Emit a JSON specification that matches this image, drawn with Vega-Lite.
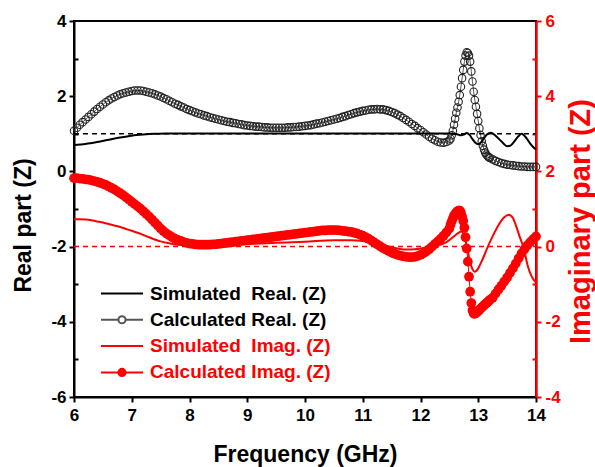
{
"$schema": "https://vega.github.io/schema/vega-lite/v6.json",
"width": 462, "height": 376,
"autosize": {"type": "none"},
"padding": {"left": 74, "top": 21, "right": 59, "bottom": 70},
"background": "white",
"config": {
 "view": {"stroke": "black", "strokeWidth": 2},
 "axis": {"grid": false, "labelFont": "Liberation Sans", "labelFontWeight": "bold", "labelFontSize": 17, "titleFont": "Liberation Sans", "titleFontWeight": "bold", "domainWidth": 2, "tickWidth": 2, "labelColor": "black", "titleColor": "black", "domainColor": "black", "tickColor": "black", "labelFlush": false, "labelOverlap": false}
},
"datasets": {
 "sr": [{"f":6,"v":0.7},{"f":6.2,"v":0.73},{"f":6.4,"v":0.78},{"f":6.6,"v":0.84},{"f":6.8,"v":0.9},{"f":7,"v":0.95},{"f":7.2,"v":0.98},{"f":7.4,"v":1.0},{"f":7.6,"v":1.01},{"f":8,"v":1.01},{"f":9,"v":1.01},{"f":10,"v":1.01},{"f":11,"v":1.01},{"f":12,"v":1.01},{"f":12.5,"v":1.01},{"f":12.6,"v":1.0},{"f":12.65,"v":0.98},{"f":12.7,"v":0.96},{"f":12.75,"v":0.98},{"f":12.8,"v":1.02},{"f":12.85,"v":0.97},{"f":12.9,"v":0.86},{"f":12.95,"v":0.76},{"f":13,"v":0.72},{"f":13.05,"v":0.78},{"f":13.1,"v":0.88},{"f":13.15,"v":0.98},{"f":13.22,"v":1.03},{"f":13.3,"v":0.95},{"f":13.4,"v":0.8},{"f":13.5,"v":0.67},{"f":13.55,"v":0.68},{"f":13.6,"v":0.75},{"f":13.65,"v":0.85},{"f":13.7,"v":0.94},{"f":13.75,"v":1.0},{"f":13.8,"v":0.95},{"f":13.85,"v":0.85},{"f":13.9,"v":0.74},{"f":13.95,"v":0.65},{"f":14,"v":0.58}],
 "cr": [{"f":6,"v":1.08},{"f":6.05,"v":1.16},{"f":6.1,"v":1.24},{"f":6.15,"v":1.31},{"f":6.2,"v":1.38},{"f":6.25,"v":1.45},{"f":6.3,"v":1.52},{"f":6.35,"v":1.59},{"f":6.4,"v":1.66},{"f":6.45,"v":1.72},{"f":6.5,"v":1.78},{"f":6.55,"v":1.84},{"f":6.6,"v":1.89},{"f":6.65,"v":1.94},{"f":6.7,"v":1.98},{"f":6.75,"v":2.02},{"f":6.8,"v":2.05},{"f":6.85,"v":2.08},{"f":6.9,"v":2.1},{"f":6.95,"v":2.12},{"f":7,"v":2.14},{"f":7.05,"v":2.15},{"f":7.1,"v":2.15},{"f":7.15,"v":2.15},{"f":7.2,"v":2.14},{"f":7.25,"v":2.12},{"f":7.3,"v":2.1},{"f":7.35,"v":2.08},{"f":7.4,"v":2.05},{"f":7.45,"v":2.02},{"f":7.5,"v":1.99},{"f":7.55,"v":1.95},{"f":7.6,"v":1.92},{"f":7.65,"v":1.88},{"f":7.7,"v":1.84},{"f":7.75,"v":1.8},{"f":7.8,"v":1.77},{"f":7.85,"v":1.73},{"f":7.9,"v":1.7},{"f":7.95,"v":1.66},{"f":8,"v":1.63},{"f":8.05,"v":1.6},{"f":8.1,"v":1.57},{"f":8.15,"v":1.54},{"f":8.2,"v":1.52},{"f":8.25,"v":1.49},{"f":8.3,"v":1.47},{"f":8.35,"v":1.44},{"f":8.4,"v":1.42},{"f":8.45,"v":1.4},{"f":8.5,"v":1.38},{"f":8.55,"v":1.36},{"f":8.6,"v":1.34},{"f":8.65,"v":1.32},{"f":8.7,"v":1.31},{"f":8.75,"v":1.29},{"f":8.8,"v":1.28},{"f":8.85,"v":1.26},{"f":8.9,"v":1.25},{"f":8.95,"v":1.23},{"f":9,"v":1.22},{"f":9.05,"v":1.21},{"f":9.1,"v":1.2},{"f":9.15,"v":1.19},{"f":9.2,"v":1.19},{"f":9.25,"v":1.18},{"f":9.3,"v":1.17},{"f":9.35,"v":1.17},{"f":9.4,"v":1.16},{"f":9.45,"v":1.16},{"f":9.5,"v":1.16},{"f":9.55,"v":1.16},{"f":9.6,"v":1.16},{"f":9.65,"v":1.16},{"f":9.7,"v":1.17},{"f":9.75,"v":1.17},{"f":9.8,"v":1.18},{"f":9.85,"v":1.18},{"f":9.9,"v":1.19},{"f":9.95,"v":1.2},{"f":10,"v":1.21},{"f":10.05,"v":1.22},{"f":10.1,"v":1.23},{"f":10.15,"v":1.25},{"f":10.2,"v":1.27},{"f":10.25,"v":1.28},{"f":10.3,"v":1.3},{"f":10.35,"v":1.32},{"f":10.4,"v":1.34},{"f":10.45,"v":1.36},{"f":10.5,"v":1.38},{"f":10.55,"v":1.4},{"f":10.6,"v":1.42},{"f":10.65,"v":1.45},{"f":10.7,"v":1.47},{"f":10.75,"v":1.5},{"f":10.8,"v":1.52},{"f":10.85,"v":1.55},{"f":10.9,"v":1.57},{"f":10.95,"v":1.59},{"f":11,"v":1.61},{"f":11.05,"v":1.62},{"f":11.1,"v":1.64},{"f":11.15,"v":1.65},{"f":11.2,"v":1.65},{"f":11.25,"v":1.66},{"f":11.3,"v":1.65},{"f":11.35,"v":1.65},{"f":11.4,"v":1.63},{"f":11.45,"v":1.61},{"f":11.5,"v":1.58},{"f":11.55,"v":1.55},{"f":11.6,"v":1.51},{"f":11.65,"v":1.47},{"f":11.7,"v":1.42},{"f":11.75,"v":1.37},{"f":11.8,"v":1.32},{"f":11.85,"v":1.26},{"f":11.9,"v":1.21},{"f":11.95,"v":1.15},{"f":12,"v":1.1},{"f":12.05,"v":1.04},{"f":12.1,"v":0.98},{"f":12.15,"v":0.92},{"f":12.2,"v":0.87},{"f":12.25,"v":0.83},{"f":12.3,"v":0.79},{"f":12.35,"v":0.77},{"f":12.4,"v":0.76},{"f":12.45,"v":0.78},{"f":12.5,"v":0.82},{"f":12.52,"v":0.87},{"f":12.54,"v":0.96},{"f":12.56,"v":1.08},{"f":12.58,"v":1.24},{"f":12.6,"v":1.4},{"f":12.62,"v":1.56},{"f":12.64,"v":1.7},{"f":12.66,"v":1.85},{"f":12.68,"v":2.03},{"f":12.7,"v":2.25},{"f":12.72,"v":2.48},{"f":12.74,"v":2.7},{"f":12.76,"v":2.92},{"f":12.78,"v":3.08},{"f":12.8,"v":3.17},{"f":12.82,"v":3.15},{"f":12.84,"v":3.08},{"f":12.86,"v":2.92},{"f":12.88,"v":2.66},{"f":12.9,"v":2.39},{"f":12.92,"v":2.12},{"f":12.94,"v":1.9},{"f":12.96,"v":1.72},{"f":12.98,"v":1.53},{"f":13,"v":1.34},{"f":13.02,"v":1.15},{"f":13.04,"v":0.97},{"f":13.06,"v":0.8},{"f":13.08,"v":0.68},{"f":13.1,"v":0.58},{"f":13.12,"v":0.5},{"f":13.14,"v":0.45},{"f":13.16,"v":0.41},{"f":13.18,"v":0.38},{"f":13.2,"v":0.36},{"f":13.25,"v":0.32},{"f":13.3,"v":0.28},{"f":13.35,"v":0.25},{"f":13.4,"v":0.22},{"f":13.45,"v":0.2},{"f":13.5,"v":0.18},{"f":13.55,"v":0.17},{"f":13.6,"v":0.16},{"f":13.65,"v":0.15},{"f":13.7,"v":0.14},{"f":13.75,"v":0.13},{"f":13.8,"v":0.13},{"f":13.85,"v":0.12},{"f":13.9,"v":0.12},{"f":13.95,"v":0.12},{"f":14,"v":0.12}],
 "si": [{"f":6,"v":0.73},{"f":6.1,"v":0.73},{"f":6.2,"v":0.72},{"f":6.3,"v":0.7},{"f":6.4,"v":0.67},{"f":6.5,"v":0.64},{"f":6.6,"v":0.6},{"f":6.7,"v":0.56},{"f":6.8,"v":0.52},{"f":6.9,"v":0.47},{"f":7,"v":0.42},{"f":7.1,"v":0.37},{"f":7.2,"v":0.31},{"f":7.3,"v":0.25},{"f":7.4,"v":0.19},{"f":7.5,"v":0.14},{"f":7.6,"v":0.1},{"f":7.7,"v":0.07},{"f":7.8,"v":0.05},{"f":8,"v":0.04},{"f":8.5,"v":0.05},{"f":9,"v":0.07},{"f":9.5,"v":0.1},{"f":10,"v":0.13},{"f":10.5,"v":0.17},{"f":10.8,"v":0.17},{"f":11,"v":0.15},{"f":11.2,"v":0.09},{"f":11.4,"v":0.02},{"f":11.6,"v":-0.05},{"f":11.76,"v":-0.08},{"f":11.9,"v":-0.07},{"f":12,"v":-0.05},{"f":12.2,"v":0.0},{"f":12.34,"v":0.05},{"f":12.45,"v":0.12},{"f":12.57,"v":0.26},{"f":12.65,"v":0.36},{"f":12.71,"v":0.4},{"f":12.75,"v":0.3},{"f":12.8,"v":0.02},{"f":12.85,"v":-0.35},{"f":12.9,"v":-0.6},{"f":12.94,"v":-0.67},{"f":13,"v":-0.58},{"f":13.05,"v":-0.42},{"f":13.1,"v":-0.25},{"f":13.15,"v":-0.06},{"f":13.25,"v":0.28},{"f":13.35,"v":0.57},{"f":13.45,"v":0.78},{"f":13.53,"v":0.85},{"f":13.6,"v":0.76},{"f":13.66,"v":0.53},{"f":13.72,"v":0.25},{"f":13.78,"v":0.0},{"f":13.86,"v":-0.53},{"f":13.92,"v":-0.78},{"f":14,"v":-0.96}],
 "ci": [{"f":6,"v":1.82},{"f":6.05,"v":1.82},{"f":6.1,"v":1.81},{"f":6.15,"v":1.8},{"f":6.2,"v":1.79},{"f":6.25,"v":1.78},{"f":6.3,"v":1.76},{"f":6.35,"v":1.74},{"f":6.4,"v":1.72},{"f":6.45,"v":1.7},{"f":6.5,"v":1.67},{"f":6.55,"v":1.64},{"f":6.6,"v":1.6},{"f":6.65,"v":1.56},{"f":6.7,"v":1.52},{"f":6.75,"v":1.47},{"f":6.8,"v":1.42},{"f":6.85,"v":1.37},{"f":6.9,"v":1.31},{"f":6.95,"v":1.25},{"f":7,"v":1.19},{"f":7.05,"v":1.13},{"f":7.1,"v":1.07},{"f":7.15,"v":1.01},{"f":7.2,"v":0.94},{"f":7.25,"v":0.87},{"f":7.3,"v":0.8},{"f":7.35,"v":0.72},{"f":7.4,"v":0.64},{"f":7.45,"v":0.56},{"f":7.5,"v":0.48},{"f":7.55,"v":0.41},{"f":7.6,"v":0.35},{"f":7.65,"v":0.3},{"f":7.7,"v":0.25},{"f":7.75,"v":0.21},{"f":7.8,"v":0.18},{"f":7.85,"v":0.15},{"f":7.9,"v":0.12},{"f":7.95,"v":0.1},{"f":8,"v":0.08},{"f":8.05,"v":0.07},{"f":8.1,"v":0.06},{"f":8.15,"v":0.05},{"f":8.2,"v":0.05},{"f":8.25,"v":0.05},{"f":8.3,"v":0.05},{"f":8.35,"v":0.05},{"f":8.4,"v":0.06},{"f":8.45,"v":0.06},{"f":8.5,"v":0.07},{"f":8.55,"v":0.08},{"f":8.6,"v":0.09},{"f":8.65,"v":0.1},{"f":8.7,"v":0.11},{"f":8.75,"v":0.12},{"f":8.8,"v":0.13},{"f":8.85,"v":0.14},{"f":8.9,"v":0.15},{"f":8.95,"v":0.16},{"f":9,"v":0.17},{"f":9.05,"v":0.18},{"f":9.1,"v":0.19},{"f":9.15,"v":0.2},{"f":9.2,"v":0.21},{"f":9.25,"v":0.22},{"f":9.3,"v":0.23},{"f":9.35,"v":0.24},{"f":9.4,"v":0.25},{"f":9.45,"v":0.26},{"f":9.5,"v":0.27},{"f":9.55,"v":0.28},{"f":9.6,"v":0.29},{"f":9.65,"v":0.3},{"f":9.7,"v":0.31},{"f":9.75,"v":0.32},{"f":9.8,"v":0.33},{"f":9.85,"v":0.34},{"f":9.9,"v":0.35},{"f":9.95,"v":0.36},{"f":10,"v":0.37},{"f":10.05,"v":0.38},{"f":10.1,"v":0.39},{"f":10.15,"v":0.4},{"f":10.2,"v":0.41},{"f":10.25,"v":0.42},{"f":10.3,"v":0.43},{"f":10.35,"v":0.43},{"f":10.4,"v":0.44},{"f":10.45,"v":0.44},{"f":10.5,"v":0.44},{"f":10.55,"v":0.44},{"f":10.6,"v":0.43},{"f":10.65,"v":0.42},{"f":10.7,"v":0.41},{"f":10.75,"v":0.4},{"f":10.8,"v":0.39},{"f":10.85,"v":0.37},{"f":10.9,"v":0.35},{"f":10.95,"v":0.32},{"f":11,"v":0.29},{"f":11.05,"v":0.25},{"f":11.1,"v":0.21},{"f":11.15,"v":0.16},{"f":11.2,"v":0.11},{"f":11.25,"v":0.06},{"f":11.3,"v":0.01},{"f":11.35,"v":-0.04},{"f":11.4,"v":-0.08},{"f":11.45,"v":-0.12},{"f":11.5,"v":-0.16},{"f":11.55,"v":-0.19},{"f":11.6,"v":-0.22},{"f":11.65,"v":-0.24},{"f":11.7,"v":-0.26},{"f":11.75,"v":-0.27},{"f":11.8,"v":-0.28},{"f":11.85,"v":-0.28},{"f":11.9,"v":-0.27},{"f":11.95,"v":-0.25},{"f":12,"v":-0.22},{"f":12.05,"v":-0.18},{"f":12.1,"v":-0.13},{"f":12.15,"v":-0.07},{"f":12.2,"v":0.0},{"f":12.25,"v":0.07},{"f":12.3,"v":0.14},{"f":12.35,"v":0.21},{"f":12.4,"v":0.29},{"f":12.45,"v":0.38},{"f":12.5,"v":0.48},{"f":12.52,"v":0.58},{"f":12.54,"v":0.67},{"f":12.56,"v":0.75},{"f":12.58,"v":0.82},{"f":12.6,"v":0.87},{"f":12.62,"v":0.91},{"f":12.64,"v":0.94},{"f":12.66,"v":0.96},{"f":12.68,"v":0.96},{"f":12.7,"v":0.9},{"f":12.72,"v":0.8},{"f":12.74,"v":0.68},{"f":12.76,"v":0.5},{"f":12.78,"v":0.25},{"f":12.8,"v":-0.05},{"f":12.82,"v":-0.4},{"f":12.84,"v":-0.8},{"f":12.86,"v":-1.2},{"f":12.88,"v":-1.5},{"f":12.9,"v":-1.7},{"f":12.92,"v":-1.78},{"f":12.94,"v":-1.79},{"f":12.96,"v":-1.77},{"f":12.98,"v":-1.74},{"f":13,"v":-1.71},{"f":13.02,"v":-1.68},{"f":13.04,"v":-1.65},{"f":13.06,"v":-1.62},{"f":13.08,"v":-1.59},{"f":13.1,"v":-1.56},{"f":13.12,"v":-1.53},{"f":13.14,"v":-1.51},{"f":13.16,"v":-1.48},{"f":13.18,"v":-1.45},{"f":13.2,"v":-1.42},{"f":13.25,"v":-1.36},{"f":13.3,"v":-1.25},{"f":13.35,"v":-1.14},{"f":13.4,"v":-1.04},{"f":13.45,"v":-0.93},{"f":13.5,"v":-0.82},{"f":13.55,"v":-0.7},{"f":13.6,"v":-0.58},{"f":13.65,"v":-0.45},{"f":13.7,"v":-0.31},{"f":13.75,"v":-0.18},{"f":13.8,"v":-0.07},{"f":13.85,"v":0.03},{"f":13.9,"v":0.12},{"f":13.95,"v":0.2},{"f":14,"v":0.27}],
 "ref1": [{"f":6,"v":1},{"f":14,"v":1}],
 "ref0": [{"f":6,"v":0},{"f":14,"v":0}]
},
"layer": [
 {
  "encoding": {
   "x": {"field": "f", "type": "quantitative", "scale": {"domain": [6, 14], "nice": false, "zero": false},
    "axis": {"values": [6,6.5,7,7.5,8,8.5,9,9.5,10,10.5,11,11.5,12,12.5,13,13.5,14], "labelExpr": "datum.value % 1 === 0 ? '' + datum.value : ''", "tickSize": 5, "labelPadding": 5, "title": "Frequency (GHz)", "titleFontSize": 23, "titleY": 64, "titleBaseline": "alphabetic"}},
   "y": {"field": "v", "type": "quantitative", "scale": {"domain": [-6, 4], "nice": false, "zero": false},
    "axis": {"values": [-6,-5,-4,-3,-2,-1,0,1,2,3,4], "labelExpr": "datum.value % 2 === 0 ? '' + datum.value : ''", "tickSize": {"condition": {"test": "datum.value % 2 === 0", "value": 5}, "value": -4}, "labelPadding": 3, "title": "Real part (Z)", "titleFontSize": 23, "titleAngle": 270, "titleX": -44, "titleY": 204, "titleBaseline": "alphabetic", "titleAlign": "center"}}
  },
  "layer": [
   {"data": {"name": "cr"}, "mark": {"type": "line", "strokeWidth": 1},
    "encoding": {"color": {"datum": "Calculated Real. (Z)", "type": "nominal",
      "scale": {"domain": ["Simulated\u00a0 Real. (Z)", "Calculated Real. (Z)", "Simulated\u00a0 Imag. (Z)", "Calculated Imag. (Z)"], "range": ["black", "#555555", "red", "red"]},
      "legend": {"orient": "none", "legendX": 26, "legendY": 263, "title": null, "padding": 0, "symbolSize": 1764, "clipHeight": 19, "rowPadding": 6.3, "labelOffset": 6, "labelFont": "Liberation Sans", "labelFontWeight": "bold", "labelFontSize": 19, "labelLimit": 400, "symbolOpacity": 1, "symbolStrokeWidth": 2,
       "labelColor": {"expr": "indexof(datum.value, 'Imag') >= 0 ? 'red' : 'black'"},
       "symbolType": {"expr": "indexof(datum.value, 'Calculated') >= 0 ? 'M-1,0L-0.17,0M0.17,0L1,0M0.17,0A0.17,0.17,0,1,1,-0.17,0A0.17,0.17,0,1,1,0.17,0' : 'M-1,0L1,0'"},
       "symbolFillColor": {"expr": "datum.value === 'Calculated Imag. (Z)' ? 'red' : 'white'"}
      }}}},
   {"data": {"name": "cr"}, "mark": {"type": "point", "shape": "circle", "filled": false, "stroke": "#222222", "strokeWidth": 1.1, "size": 56, "opacity": 1}},
   {"data": {"name": "sr"}, "mark": {"type": "line", "strokeWidth": 2, "interpolate": "monotone"},
    "encoding": {"color": {"datum": "Simulated\u00a0 Real. (Z)", "type": "nominal"}}},
   {"data": {"name": "ref1"}, "mark": {"type": "line", "color": "black", "strokeWidth": 1.5, "strokeDash": [5, 4]}}
  ]
 },
 {
  "encoding": {
   "x": {"field": "f", "type": "quantitative"},
   "y": {"field": "v", "type": "quantitative", "scale": {"domain": [-4, 6], "nice": false, "zero": false},
    "axis": {"orient": "right", "values": [-4,-3,-2,-1,0,1,2,3,4,5,6], "labelExpr": "datum.value % 2 === 0 ? '' + datum.value : ''", "tickSize": {"condition": {"test": "datum.value % 2 === 0", "value": 5}, "value": -4}, "labelPadding": 4, "title": "Imaginary part (Z)", "titleFontSize": 29, "titleAngle": 270, "titleX": 53, "titleY": 200, "titleBaseline": "alphabetic", "titleAlign": "center", "domainColor": "red", "tickColor": "red", "labelColor": "red", "titleColor": "red", "domainWidth": 2.5}}
  },
  "layer": [
   {"data": {"name": "ci"}, "mark": {"type": "line", "strokeWidth": 1},
    "encoding": {"color": {"datum": "Calculated Imag. (Z)", "type": "nominal"}}},
   {"data": {"name": "ci"}, "mark": {"type": "point", "shape": "circle", "filled": true, "color": "red", "size": 95, "opacity": 1, "strokeWidth": 0}},
   {"data": {"name": "si"}, "mark": {"type": "line", "strokeWidth": 2, "interpolate": "monotone"},
    "encoding": {"color": {"datum": "Simulated\u00a0 Imag. (Z)", "type": "nominal"}}},
   {"data": {"name": "ref0"}, "mark": {"type": "line", "color": "red", "strokeWidth": 1.5, "strokeDash": [5, 4]}}
  ]
 }
],
"resolve": {"scale": {"y": "independent"}}
}
